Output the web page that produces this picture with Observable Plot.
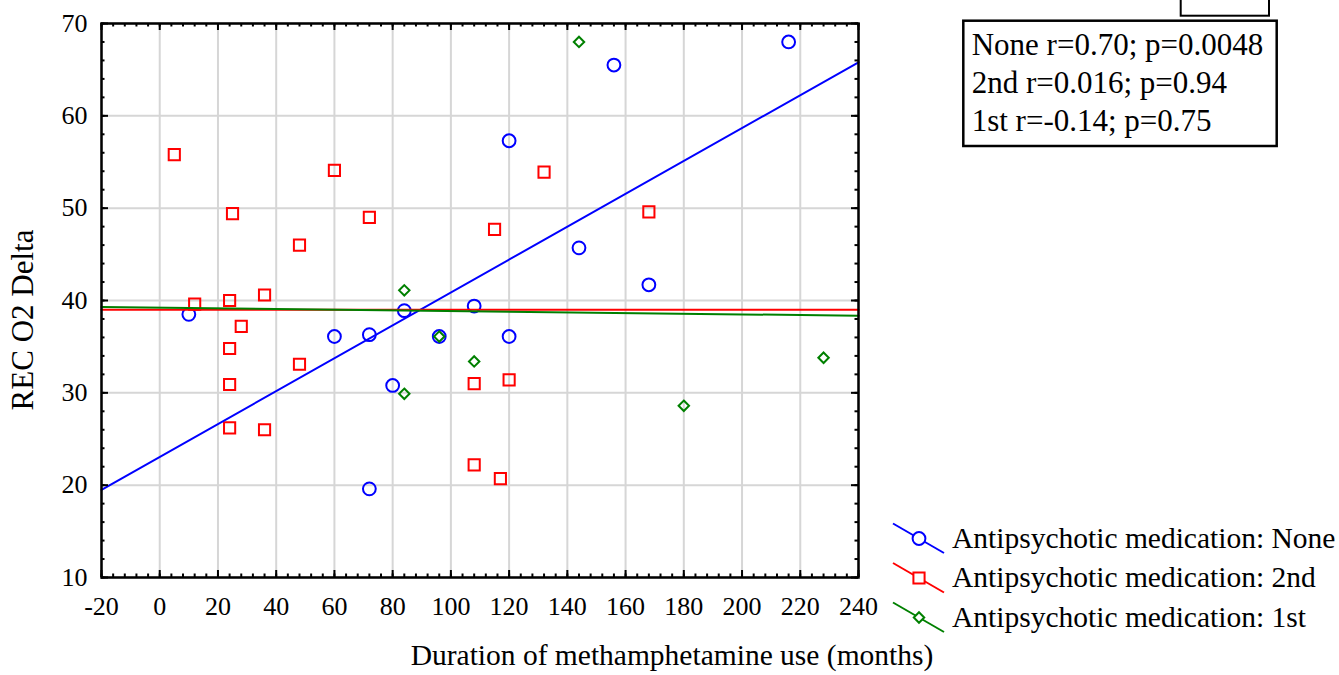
<!DOCTYPE html>
<html><head><meta charset="utf-8">
<script src="https://cdn.jsdelivr.net/npm/d3@7"></script>
<script src="https://cdn.jsdelivr.net/npm/@observablehq/plot@0.6"></script>
<style>body{margin:0;background:#fff} svg{display:block}</style>
</head><body><div id="chart"></div>
<script>
// ---- data ----
const noneX = [10, 60, 72, 84, 96, 108, 120, 80, 72, 120, 144, 156, 168, 216];
const noneY = [38.5, 36.1, 36.3, 38.9, 36.1, 39.4, 36.1, 30.8, 19.6, 57.3, 45.7, 65.5, 41.7, 68.0];
const secondX = [5, 60, 25, 72, 48, 12, 24, 36, 28, 24, 24, 48, 24, 36, 115, 132, 108, 120, 108, 117, 168];
const secondY = [55.8, 54.1, 49.4, 49.0, 46.0, 39.6, 40.0, 40.6, 37.2, 34.8, 30.9, 33.1, 26.2, 26.0, 47.7, 53.9, 31.0, 31.4, 22.2, 20.7, 49.6];
const firstX = [144, 84, 96, 108, 84, 180, 228];
const firstY = [68.0, 41.1, 36.1, 33.4, 29.9, 28.6, 33.8];
// fitted lines (values at the ends of the x axis)
const fitX = [-20, 240];
const fitNone = [19.5, 65.8];
const fitSecond = [39.0, 39.0];
const fitFirst = [39.3, 38.35];

const groupNames = ["None", "2nd", "1st"];
const groupColors = ["#0000ff", "#ff0000", "#008000"];
const legendLabels = ["Antipsychotic medication: None", "Antipsychotic medication: 2nd", "Antipsychotic medication: 1st"];
const statsLines = ["None r=0.70; p=0.0048", "2nd r=0.016; p=0.94", "1st r=-0.14; p=0.75"];
const xTicks = [-20, 0, 20, 40, 60, 80, 100, 120, 140, 160, 180, 200, 220, 240];
const yTicks = [10, 20, 30, 40, 50, 60, 70];
const xMinor = d3.range(-20, 241, 4);
const yMinor = d3.range(10, 71, 2);
const xTitle = "Duration of methamphetamine use (months)";
const yTitle = "REC O2 Delta";

// ---- layout ----
const W = 1339, H = 675, ML = 101, MR = 481, MT = 23, MB = 98;
const PW = W - ML - MR, PH = H - MT - MB;
const FONT = "'Liberation Serif', 'Times New Roman', serif";

const pts = (xs, ys) => xs.map((x, i) => ({x, y: ys[i]}));
const fits = [fitNone, fitSecond, fitFirst].flatMap((ys, g) =>
  fitX.map((x, i) => ({g: groupNames[g], x, y: ys[i]})));

const chart = Plot.plot({
  width: W, height: H,
  marginLeft: ML, marginRight: MR, marginTop: MT, marginBottom: MB,
  x: {domain: [-20, 240]},
  y: {domain: [10, 70]},
  color: {domain: groupNames, range: groupColors},
  style: {fontFamily: FONT, fontSize: "26px", background: "#fff", color: "#000"},
  marks: [
    Plot.gridX(xTicks, {stroke: "#d6d6d6", strokeOpacity: 1, strokeWidth: 2}),
    Plot.gridY(yTicks, {stroke: "#d6d6d6", strokeOpacity: 1, strokeWidth: 2}),
    Plot.dot(pts(noneX, noneY), {x: "x", y: "y", symbol: "circle", r: 6.4, stroke: groupColors[0], strokeWidth: 2, fill: "none"}),
    Plot.dot(pts(secondX, secondY), {x: "x", y: "y", symbol: "square", r: 6.3, stroke: groupColors[1], strokeWidth: 2, fill: "none"}),
    Plot.dot(pts(firstX, firstY), {x: "x", y: "y", symbol: "diamond2", r: 4.7, stroke: groupColors[2], strokeWidth: 2, fill: "none"}),
    Plot.line(fits, {x: "x", y: "y", z: "g", stroke: "g", strokeWidth: 2}),
    // inward ticks
    Plot.tickX(xMinor, {x: d => d, insetTop: PH - 3.5, stroke: "#000", strokeWidth: 2}),
    Plot.tickX(xTicks, {x: d => d, insetTop: PH - 7, stroke: "#000", strokeWidth: 2}),
    Plot.tickX(xMinor, {x: d => d, insetBottom: PH - 3.5, stroke: "#000", strokeWidth: 2}),
    Plot.tickX(xTicks, {x: d => d, insetBottom: PH - 7, stroke: "#000", strokeWidth: 2}),
    Plot.tickY(yMinor, {y: d => d, insetRight: PW - 3.5, stroke: "#000", strokeWidth: 2}),
    Plot.tickY(yTicks, {y: d => d, insetRight: PW - 7, stroke: "#000", strokeWidth: 2}),
    Plot.tickY(yMinor, {y: d => d, insetLeft: PW - 3.5, stroke: "#000", strokeWidth: 2}),
    Plot.tickY(yTicks, {y: d => d, insetLeft: PW - 7, stroke: "#000", strokeWidth: 2}),
    Plot.axisX(xTicks, {anchor: "bottom", tickSize: 0, tickPadding: 19, label: null, fontSize: 26, fill: "#000", tickFormat: d => String(d)}),
    Plot.axisY(yTicks, {anchor: "left", tickSize: 0, tickPadding: 14, label: null, fontSize: 26, fill: "#000", tickFormat: d => String(d)}),
    Plot.frame({stroke: "#000", strokeWidth: 2.5})
  ]
});

const svg = d3.select(chart);
svg.style("font-family", FONT);

// axis titles
svg.append("text").attr("x", 672).attr("y", 665).attr("text-anchor", "middle")
  .attr("font-size", 29.5).attr("fill", "#000").text(xTitle);
svg.append("text").attr("transform", "translate(33,320) rotate(-90)").attr("text-anchor", "middle")
  .attr("font-size", 31).attr("fill", "#000").text(yTitle);

// stats box
svg.append("rect").attr("x", 1180.7).attr("y", -3).attr("width", 88.3).attr("height", 18.7)
  .attr("fill", "#fff").attr("stroke", "#000").attr("stroke-width", 2);
svg.append("rect").attr("x", 963.3).attr("y", 20.7).attr("width", 313.4).attr("height", 125.3)
  .attr("fill", "#fff").attr("stroke", "#000").attr("stroke-width", 2.5);
const statBase = [55, 93.3, 130.7];
statsLines.forEach((t, i) => {
  svg.append("text").attr("x", 971.7).attr("y", statBase[i]).attr("font-size", 31)
    .attr("text-anchor", "start").attr("fill", "#000").text(t);
});

// legend
const legY = [538.5, 578, 617.5];
const legSym = [d3.symbolCircle, d3.symbolSquare, d3.symbolDiamond2];
const legSize = [Math.PI * 6.4 * 6.4, Math.PI * 6.3 * 6.3, Math.PI * 4.7 * 4.7];
legendLabels.forEach((t, i) => {
  const g = svg.append("g");
  g.append("line").attr("x1", 893).attr("y1", legY[i] - 15).attr("x2", 944).attr("y2", legY[i] + 14.5)
    .attr("stroke", groupColors[i]).attr("stroke-width", 2);
  g.append("path").attr("transform", `translate(919,${legY[i]})`)
    .attr("d", d3.symbol(legSym[i], legSize[i])())
    .attr("fill", "#fff").attr("stroke", groupColors[i]).attr("stroke-width", 2);
  g.append("text").attr("x", 952).attr("y", legY[i] + 9).attr("font-size", 29.5)
    .attr("text-anchor", "start").attr("fill", "#000").text(t);
});

document.getElementById("chart").appendChild(chart);
</script>
</body></html>
